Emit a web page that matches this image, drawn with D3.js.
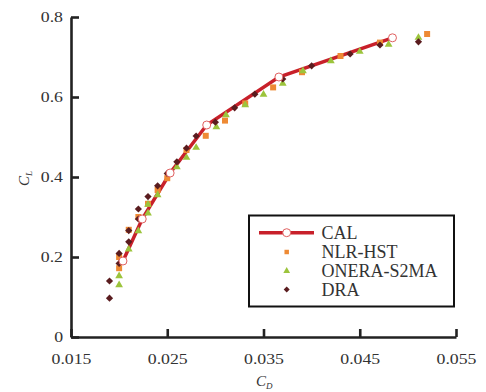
<!DOCTYPE html>
<html><head><meta charset="utf-8">
<script src="https://cdn.jsdelivr.net/npm/d3@7"></script>
<style>body{margin:0;background:#fff}</style>
</head><body><svg id="c" width="486" height="392"></svg>
<script>
const xTicks=[0.015,0.025,0.035,0.045,0.055];
const yTicks=[0,0.2,0.4,0.6,0.8];
const seriesNames=["CAL","NLR-HST","ONERA-S2MA","DRA"];
const calCD=[0.0204,0.0224,0.0253,0.0291,0.0366,0.0484];
const calCL=[0.19,0.295,0.41,0.53,0.65,0.748];
const nlrCD=[0.0200,0.0200,0.0210,0.0220,0.0230,0.0240,0.0250,0.0270,0.0290,0.0310,0.0331,0.0360,0.0390,0.0430,0.0471,0.0520];
const nlrCL=[0.172,0.20,0.268,0.30,0.333,0.3675,0.397,0.4675,0.503,0.541,0.584,0.624,0.662,0.7025,0.736,0.7575];
const oneraCD=[0.0200,0.0200,0.0210,0.0220,0.0230,0.0230,0.0240,0.0260,0.0270,0.0280,0.0301,0.0311,0.0331,0.0350,0.0370,0.0391,0.0420,0.0450,0.0480,0.0511];
const oneraCL=[0.1325,0.155,0.222,0.2675,0.312,0.334,0.3575,0.4275,0.451,0.476,0.5275,0.5575,0.5825,0.609,0.6365,0.6675,0.6925,0.716,0.734,0.751];
const draCD=[0.0190,0.0190,0.0200,0.0200,0.0210,0.0210,0.0220,0.0220,0.0230,0.0240,0.0250,0.0260,0.0270,0.0280,0.0300,0.0320,0.0341,0.0370,0.0400,0.0440,0.0471,0.0511];
const draCL=[0.097,0.14,0.184,0.209,0.238,0.266,0.295,0.32,0.351,0.378,0.409,0.438,0.472,0.5025,0.537,0.573,0.607,0.645,0.678,0.7075,0.73,0.738];

const svg=d3.select("#c");
const x=d3.scaleLinear().domain([0.015,0.055]).range([71,456]);
const y=d3.scaleLinear().domain([0,0.8]).range([337,17]);
const FONT="'Liberation Serif','Times New Roman',serif";
const TXT="#333";
const red="#c8202a", orange="#ee8a34", green="#9cc43c", dark="#5a1c1f";

function stretch(sel,f){sel.each(function(){const l=this.getComputedTextLength();d3.select(this).attr("textLength",l*f).attr("lengthAdjust","spacingAndGlyphs");});}

const gx=svg.append("g").attr("transform","translate(0,337)")
 .call(d3.axisBottom(x).tickValues(xTicks).tickFormat(d3.format(".3f")).tickSizeInner(-8).tickSizeOuter(0).tickPadding(17));
const gy=svg.append("g").attr("transform","translate(71,0)")
 .call(d3.axisLeft(y).tickValues(yTicks).tickFormat(d=>d===0?"0":d3.format(".1f")(d)).tickSizeInner(-8).tickSizeOuter(0).tickPadding(8));
[gx,gy].forEach(g=>{
 g.select(".domain").attr("stroke","#222").attr("stroke-width",2.6);
 g.selectAll(".tick line").attr("stroke","#222").attr("stroke-width",2.6);
 g.selectAll("text").attr("font-family",FONT).attr("font-size",14).attr("fill",TXT);
 stretch(g.selectAll("text"),1.27);
});

// axis titles
const tx=svg.append("text").attr("x",256).attr("y",386).attr("font-family",FONT).attr("font-style","italic").attr("font-size",15).attr("fill",TXT);
tx.append("tspan").text("C");
tx.append("tspan").attr("font-size",9).attr("dy",3).text("D");
const ty=svg.append("text").attr("transform","translate(29,186) rotate(-90)").attr("font-family",FONT).attr("font-style","italic").attr("font-size",15).attr("fill",TXT);
ty.append("tspan").text("C");
ty.append("tspan").attr("font-size",9).attr("dy",3).text("L");

// CAL line
const line=d3.line().x(d=>x(d[0])).y(d=>y(d[1]));
svg.append("path").datum(calCD.map((v,i)=>[v,calCL[i]])).attr("d",line).attr("fill","none").attr("stroke",red).attr("stroke-width",3.5);

const sq=d3.symbol().type(d3.symbolSquare).size(36)();
const tri=d3.symbol().type(d3.symbolTriangle).size(26)();
const dia=d3.symbol().type(d3.symbolSquare).size(26)();

svg.append("g").selectAll("path").data(nlrCD.map((v,i)=>[v,nlrCL[i]])).join("path")
 .attr("d",sq).attr("transform",d=>`translate(${x(d[0])},${y(d[1])})`).attr("fill",orange);
svg.append("g").selectAll("path").data(oneraCD.map((v,i)=>[v,oneraCL[i]])).join("path")
 .attr("d",tri).attr("transform",d=>`translate(${x(d[0])},${y(d[1])+1})`).attr("fill",green);
svg.append("g").selectAll("path").data(draCD.map((v,i)=>[v,draCL[i]])).join("path")
 .attr("d",dia).attr("transform",d=>`translate(${x(d[0])},${y(d[1])}) rotate(45)`).attr("fill",dark);
svg.append("g").selectAll("circle").data(calCD.map((v,i)=>[v,calCL[i]])).join("circle")
 .attr("cx",d=>x(d[0])).attr("cy",d=>y(d[1])).attr("r",4).attr("fill","#fff").attr("stroke","#e06060").attr("stroke-width",1);

// legend
const lg=svg.append("g");
lg.append("rect").attr("x",249).attr("y",215.5).attr("width",205).attr("height",91).attr("fill","#fff").attr("stroke","#111").attr("stroke-width",2);
const rows=[232.7,252,271,289.5];
lg.append("line").attr("x1",259).attr("x2",314).attr("y1",rows[0]).attr("y2",rows[0]).attr("stroke",red).attr("stroke-width",3.5);
lg.append("circle").attr("cx",286.7).attr("cy",rows[0]).attr("r",4).attr("fill","#fff").attr("stroke","#e06060");
lg.append("path").attr("d",d3.symbol().type(d3.symbolSquare).size(20)()).attr("transform",`translate(286.7,${rows[1]})`).attr("fill",orange);
lg.append("path").attr("d",d3.symbol().type(d3.symbolTriangle).size(20)()).attr("transform",`translate(286.7,${rows[2]})`).attr("fill",green);
lg.append("path").attr("d",d3.symbol().type(d3.symbolSquare).size(18)()).attr("transform",`translate(286.7,${rows[3]}) rotate(45)`).attr("fill",dark);
lg.selectAll("text.l").data(seriesNames).join("text").attr("class","l")
 .attr("x",321.5).attr("y",(d,i)=>rows[i]+6).attr("font-family",FONT).attr("font-size",18).attr("fill",TXT).text(d=>d);
</script></body></html>
